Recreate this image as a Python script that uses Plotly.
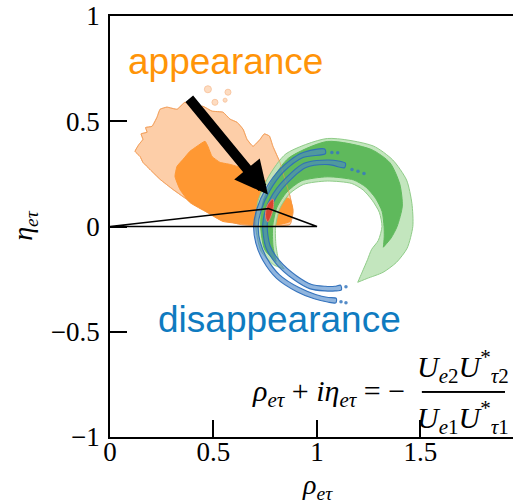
import numpy as np
import plotly.graph_objects as go

# ---- appearance constraint: outer (light) and inner (dark) contours ----
app_outer_rho = [0.121, 0.140, 0.159, 0.150, 0.179, 0.172, 0.203, 0.227, 0.242, 0.275, 0.324,
                 0.362, 0.401, 0.449, 0.493, 0.546, 0.580, 0.614, 0.643, 0.662, 0.691, 0.725,
                 0.745, 0.770, 0.787, 0.821, 0.845, 0.870, 0.884, 0.870, 0.758, 0.628, 0.546,
                 0.469, 0.386, 0.304, 0.242, 0.193, 0.159, 0.145]
app_outer_eta = [0.357, 0.390, 0.414, 0.440, 0.448, 0.470, 0.476, 0.519, 0.557, 0.567, 0.557,
                 0.590, 0.567, 0.571, 0.548, 0.543, 0.510, 0.495, 0.462, 0.414, 0.381, 0.414,
                 0.440, 0.430, 0.381, 0.305, 0.224, 0.143, 0.067, 0.010, 0.000, 0.010, 0.033,
                 0.071, 0.119, 0.176, 0.224, 0.271, 0.305, 0.333]
app_inner_rho = [0.386, 0.420, 0.459, 0.473, 0.493, 0.531, 0.580, 0.628, 0.676, 0.739, 0.787,
                 0.836, 0.870, 0.884, 0.870, 0.821, 0.676, 0.546, 0.469, 0.386, 0.338, 0.314,
                 0.324, 0.353]
app_inner_eta = [0.357, 0.381, 0.405, 0.381, 0.333, 0.305, 0.295, 0.281, 0.257, 0.224, 0.190,
                 0.143, 0.129, 0.081, 0.024, 0.010, 0.010, 0.024, 0.067, 0.114, 0.176, 0.238,
                 0.286, 0.319]
# detached islands of the outer appearance contour
island_rho = [0.473, 0.570, 0.507, 0.556]
island_eta = [0.652, 0.638, 0.590, 0.600]

# ---- combined disappearance (green) ring, polar around a centre ----
ring_center = (1.05, 0.0)
ring_ang = [224, 215, 200, 180, 160, 140, 120, 90, 60, 45, 30, 15, 0, -15, -27, -39, -52, -61]
ring_r_out = [0.290, 0.317, 0.341, 0.346, 0.356, 0.370, 0.399, 0.418, 0.442, 0.447, 0.442,
              0.423, 0.413, 0.399, 0.375, 0.346, 0.313, 0.303]
ring_r_in = [0.290, 0.285, 0.264, 0.250, 0.245, 0.240, 0.231, 0.216, 0.236, 0.245, 0.250,
             0.260, 0.264, 0.255, 0.240, 0.250, 0.274, 0.303]
core_ang = [214, 200, 180, 160, 140, 120, 90, 60, 45, 30, 15, 0, -10, -20]
core_r_out = [0.298, 0.322, 0.322, 0.332, 0.346, 0.375, 0.404, 0.423, 0.428, 0.404, 0.375,
              0.337, 0.313, 0.288]
core_r_in = [0.298, 0.279, 0.264, 0.260, 0.255, 0.250, 0.236, 0.255, 0.264, 0.269, 0.274,
             0.274, 0.279, 0.288]

# ---- disappearance (blue) bands, centre lines ----
band_a_rho = [1.039, 0.928, 0.831, 0.763, 0.720, 0.705, 0.715, 0.749, 0.812, 0.908, 0.990,
              1.053, 1.092]
band_a_eta = [0.357, 0.338, 0.267, 0.176, 0.081, 0.000, -0.076, -0.157, -0.238, -0.300,
              -0.333, -0.348, -0.352]
band_b_rho = [1.135, 1.058, 0.942, 0.831, 0.773, 0.749, 0.763, 0.812, 0.894, 0.971, 1.039,
              1.087, 1.116]
band_b_eta = [0.290, 0.305, 0.290, 0.195, 0.105, 0.010, -0.095, -0.171, -0.243, -0.286,
              -0.295, -0.295, -0.290]
band_dots_rho = [1.072, 1.100, 1.169, 1.198, 1.227, 1.116, 1.140, 1.140]
band_dots_eta = [0.352, 0.350, 0.271, 0.262, 0.252, -0.357, -0.362, -0.286]
band_half_width = 0.011

# ---- global fit region (red) ----
fit_rho = [0.787, 0.790, 0.778, 0.762, 0.752, 0.760]
fit_eta = [0.130, 0.100, 0.050, 0.022, 0.045, 0.100]

# ---- triangle vertices and best-fit arrow ----
tri_rho = [0.0, 0.765, 1.0, 0.0]
tri_eta = [0.0, 0.085, 0.0, 0.0]
arrow_tail = (0.377, 0.614)
arrow_tip = (0.763, 0.152)

x_ticks = [0, 0.5, 1, 1.5]
x_ticktext = ["0", "0.5", "1", "1.5"]
y_ticks = [-1, -0.5, 0, 0.5, 1]
y_ticktext = ["\u22121", "\u22120.5", "0", "0.5", "1"]

CLEAR = "rgba(0,0,0,0)"


def closed(xs, ys):
    xs, ys = list(xs), list(ys)
    return xs + xs[:1], ys + ys[:1]


def ring_polygon(center, ang_deg, r_out, r_in):
    a = np.radians(ang_deg)
    ro, ri = np.asarray(r_out), np.asarray(r_in)
    xo, yo = center[0] + ro * np.cos(a), center[1] + ro * np.sin(a)
    xi, yi = center[0] + ri * np.cos(a), center[1] + ri * np.sin(a)
    return closed(np.concatenate([xo, xi[::-1]]), np.concatenate([yo, yi[::-1]]))


def band_polygon(xs, ys, half):
    xs, ys = np.asarray(xs), np.asarray(ys)
    tx, ty = np.gradient(xs), np.gradient(ys)
    n = np.hypot(tx, ty)
    nx, ny = -ty / n, tx / n
    return closed(np.concatenate([xs + half * nx, (xs - half * nx)[::-1]]),
                  np.concatenate([ys + half * ny, (ys - half * ny)[::-1]]))


fig = go.Figure()

ox, oy = closed(app_outer_rho, app_outer_eta)
fig.add_trace(go.Scatter(x=ox, y=oy, mode="lines", fill="toself", fillcolor="#FDCEA8",
                         line=dict(color="#F7B07C", width=1, shape="spline", smoothing=0.35)))
ix, iy = closed(app_inner_rho, app_inner_eta)
fig.add_trace(go.Scatter(x=ix, y=iy, mode="lines", fill="toself", fillcolor="#FF9833",
                         line=dict(color="#FF9833", width=1, shape="spline", smoothing=0.4)))
fig.add_trace(go.Scatter(x=island_rho, y=island_eta, mode="markers",
                         marker=dict(size=[7, 6, 6, 4], color="#FDCEA8",
                                     line=dict(color="#F7B07C", width=1))))

gx, gy = ring_polygon(ring_center, ring_ang, ring_r_out, ring_r_in)
fig.add_trace(go.Scatter(x=gx, y=gy, mode="lines", fill="toself",
                         fillcolor="rgba(190,228,184,0.92)",
                         line=dict(color="#8FCC88", width=1, shape="spline", smoothing=0.7)))
cx, cy = ring_polygon(ring_center, core_ang, core_r_out, core_r_in)
fig.add_trace(go.Scatter(x=cx, y=cy, mode="lines", fill="toself", fillcolor="#5FB95C",
                         line=dict(color="#5FB95C", width=1, shape="spline", smoothing=0.7)))

# faint outline of the appearance contour drawn over the ring
fig.add_trace(go.Scatter(x=ox, y=oy, mode="lines",
                         line=dict(color="rgba(240,150,70,0.6)", width=1, shape="spline",
                                   smoothing=0.35)))

for bx, by in ((band_a_rho, band_a_eta), (band_b_rho, band_b_eta)):
    px, py = band_polygon(bx, by, band_half_width)
    fig.add_trace(go.Scatter(x=px, y=py, mode="lines", fill="toself",
                             fillcolor="rgba(70,132,200,0.6)",
                             line=dict(color="rgba(45,110,185,0.95)", width=1.1,
                                       shape="spline", smoothing=0.8)))
fig.add_trace(go.Scatter(x=band_dots_rho, y=band_dots_eta, mode="markers",
                         marker=dict(size=3.5, color="rgba(55,120,190,0.85)")))

rx, ry = closed(fit_rho, fit_eta)
fig.add_trace(go.Scatter(x=rx, y=ry, mode="lines", fill="toself", fillcolor="#D9432F",
                         line=dict(color="#E8806E", width=1, shape="spline")))

fig.add_trace(go.Scatter(x=tri_rho, y=tri_eta, mode="lines",
                         line=dict(color="black", width=1.6)))

# fraction bar of the formula, on a hidden overlay frame spanning the plot area
bar_y = 0.107
bar_x = [0.774, 0.980]
fig.add_trace(go.Scatter(x=bar_x, y=[bar_y, bar_y], mode="lines", xaxis="x2", yaxis="y2",
                         line=dict(color="black", width=1.8), cliponaxis=False,
                         hoverinfo="skip"))

fig.add_annotation(x=arrow_tip[0], y=arrow_tip[1], ax=arrow_tail[0], ay=arrow_tail[1],
                   xref="x", yref="y", axref="x", ayref="y", text="", showarrow=True,
                   arrowhead=2, arrowwidth=10, arrowsize=0.66, arrowcolor="black", standoff=0)

fig.add_annotation(x=0.556, y=0.786, xref="x", yref="y", text="appearance", showarrow=False,
                   xanchor="center", yanchor="middle", bgcolor=CLEAR,
                   font=dict(family="Liberation Sans", size=37, color="#FF9408"))
fig.add_annotation(x=0.821, y=-0.443, xref="x", yref="y", text="disappearance", showarrow=False,
                   xanchor="center", yanchor="middle", bgcolor=CLEAR,
                   font=dict(family="Liberation Sans", size=37, color="#0F7BC0"))

# formula  rho + i eta = - (U_e2 U*_tau2) / (U_e1 U*_tau1)
ffont = dict(family="Liberation Serif", size=30, color="black")
fig.add_annotation(x=0.738, y=0.1045, xref="paper", yref="paper", xanchor="right", yanchor="middle",
                   text="<i>ρ</i><sub><i>eτ</i></sub> + <i>iη</i><sub><i>eτ</i></sub> = \u2212",
                   showarrow=False, font=ffont, bgcolor=CLEAR)
fig.add_annotation(x=0.877, y=bar_y + 0.008, xref="paper", yref="paper", xanchor="center",
                   yanchor="bottom", bgcolor=CLEAR,
                   text="<i>U</i><sub><i>e</i>2</sub><i>U</i><sup>*</sup><sub><i>τ</i>2</sub>",
                   showarrow=False, font=ffont, borderpad=0)
fig.add_annotation(x=0.877, y=bar_y - 0.008, xref="paper", yref="paper", xanchor="center",
                   yanchor="top", bgcolor=CLEAR,
                   text="<i>U</i><sub><i>e</i>1</sub><i>U</i><sup>*</sup><sub><i>τ</i>1</sub>",
                   showarrow=False, font=ffont, borderpad=0)
fig.add_shape(type="line", xref="paper", yref="paper", x0=bar_x[0], x1=bar_x[1], y0=bar_y, y1=bar_y,
              line=dict(color="black", width=1.8), layer="above")

# axis titles
fig.add_annotation(x=0.514, y=-0.118, xref="paper", yref="paper", xanchor="center", yanchor="middle",
                   text="<i>ρ</i><sub><i>eτ</i></sub>", showarrow=False, bgcolor=CLEAR,
                   font=dict(family="Liberation Serif", size=28, color="black"))
fig.add_annotation(x=-0.211, y=0.504, xref="paper", yref="paper", xanchor="center", yanchor="middle",
                   text="<i>η</i><sub><i>eτ</i></sub>", textangle=-90, showarrow=False, bgcolor=CLEAR,
                   font=dict(family="Liberation Serif", size=28, color="black"))

axis_common = dict(showgrid=False, zeroline=False, showline=True, linecolor="black", linewidth=1.5,
                   ticks="inside", ticklen=17, tickwidth=1.5, tickcolor="black",
                   tickfont=dict(family="Liberation Serif", size=27, color="black"))
fig.update_xaxes(range=[0, 1.947], tickvals=x_ticks, ticktext=x_ticktext, mirror=True,
                 ticklabelstandoff=-10, **axis_common)
fig.update_yaxes(range=[-1, 1], tickvals=y_ticks, ticktext=y_ticktext, mirror=False,
                 ticklabelstandoff=3, **axis_common)

fig.update_layout(width=513, height=503, showlegend=False,
                  margin=dict(l=110, r=0, t=16, b=66),
                  paper_bgcolor="white", plot_bgcolor="white",
                  xaxis2=dict(overlaying="x", range=[0, 1], visible=False, anchor="y2"),
                  yaxis2=dict(overlaying="y", range=[0, 1], visible=False, anchor="x2"))

fig.write_html("out.html")
